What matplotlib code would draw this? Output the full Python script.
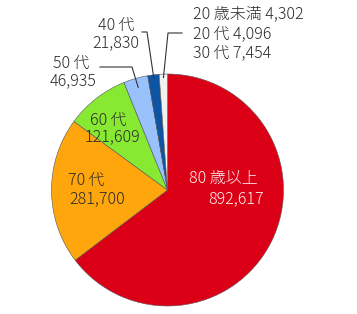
import matplotlib
matplotlib.use('Agg')
import numpy as np
import matplotlib.pyplot as plt

plt.rcParams['font.family'] = ['Noto Sans CJK JP', 'DejaVu Sans']
plt.rcParams['font.weight'] = 'light'

# age groups, clockwise from 12 o'clock
groups = ['80 歳以上', '70\u2009代', '60\u2009代', '50\u2009代', '40\u2009代']
counts = [892617, 281700, 121609, 46935, 21830]
colors = ['#dc0016', '#fea60c', '#88e933', '#99c1fc', '#0d55a2']

# under-40 groups share one small slice
young_groups = ['20 歳未満', '20\u2009代', '30\u2009代']
young_counts = [4302, 4096, 7454]
young_color = '#f1f1f1'

values = counts + [sum(young_counts)]
fills = colors + [young_color]

W, H = 357, 314
fig = plt.figure(figsize=(W / 100, H / 100), dpi=100)
ax = fig.add_axes([0, 0, 1, 1])

cx, cy, r = 167.5, H - 190, 116
wedges, _ = ax.pie(values, colors=fills, startangle=90, counterclock=False,
                   center=(cx, cy), radius=r, frame=True,
                   wedgeprops=dict(edgecolor='#555555', linewidth=0.4))
ax.set_xlim(0, W)
ax.set_ylim(0, H)
ax.set_aspect('equal')
ax.axis('off')


def fmt(v):
    return '{:,}'.format(v)


def anchor(w, frac):
    a = np.deg2rad((w.theta1 + w.theta2) / 2)
    return cx + r * frac * np.cos(a), cy + r * frac * np.sin(a)


txt = '#2b2b2b'
fs = 11.5

# labels inside the big slices
ax.text(223, H - 178, groups[0], color='#fff4f4', fontsize=fs, ha='center', va='center')
ax.text(236, H - 199, fmt(counts[0]), color='#fff4f4', fontsize=fs, ha='center', va='center')
ax.text(86, H - 180, groups[1], color=txt, fontsize=fs, ha='center', va='center')
ax.text(97, H - 199, fmt(counts[1]), color=txt, fontsize=fs, ha='center', va='center')
ax.text(108, H - 120, groups[2], color=txt, fontsize=fs, ha='center', va='center')
ax.text(112, H - 137, fmt(counts[2]), color=txt, fontsize=fs, ha='center', va='center')

# outside labels with leader lines
ax.text(71, H - 63, groups[3], color=txt, fontsize=fs, ha='center', va='center')
ax.text(73, H - 81, fmt(counts[3]), color=txt, fontsize=fs, ha='center', va='center')
x0, y0 = anchor(wedges[3], 0.92)
ax.plot([100, 132, x0], [H - 67, H - 67, y0], color='#333333', lw=0.8)

ax.text(116, H - 25, groups[4], color=txt, fontsize=fs, ha='center', va='center')
ax.text(116, H - 43, fmt(counts[4]), color=txt, fontsize=fs, ha='center', va='center')
x0, y0 = anchor(wedges[4], 0.97)
ax.plot([142, 147, x0], [H - 32, H - 32, y0], color='#333333', lw=0.8)

for i, (g, c) in enumerate(zip(young_groups, young_counts)):
    ax.text(193, H - 14 - 19.5 * i, g + ' ' + fmt(c), color=txt, fontsize=fs,
            ha='left', va='center')
x0, y0 = anchor(wedges[5], 0.97)
ax.plot([x0, 168, 182], [y0, H - 33, H - 33], color='#333333', lw=0.8)

fig.savefig('out.png', dpi=100, facecolor='white')
